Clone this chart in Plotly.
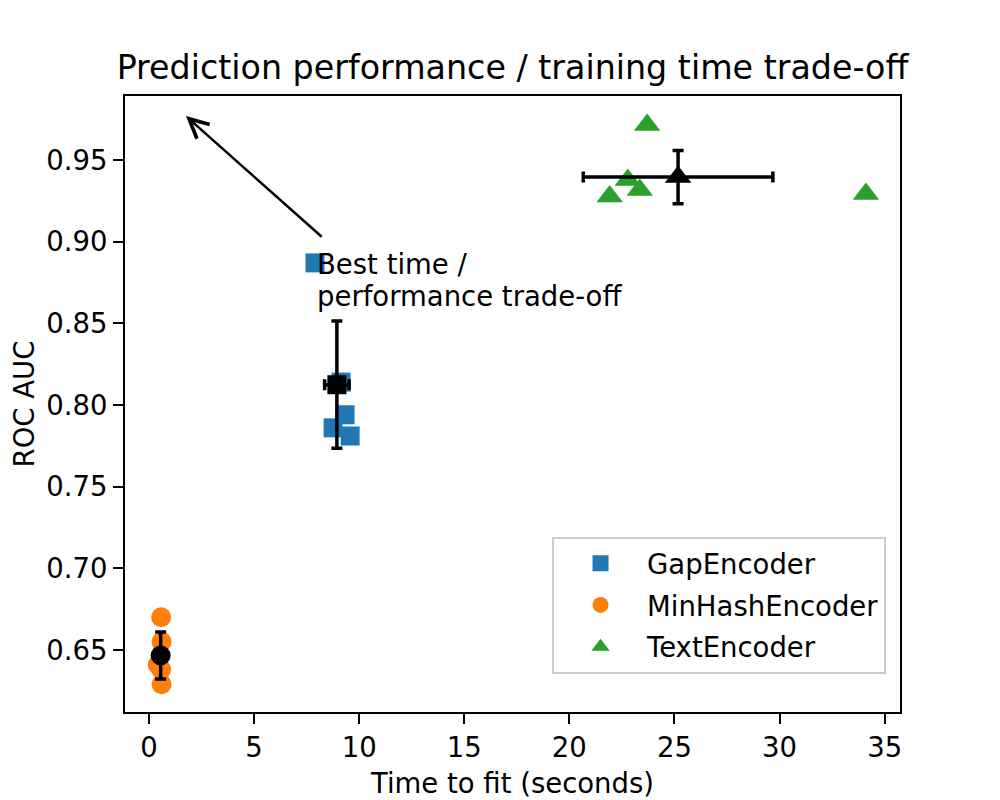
import numpy as np
import plotly.graph_objects as go

# ---- data ----
encoders = ["GapEncoder", "MinHashEncoder", "TextEncoder"]
colors = ["#1f77b4", "#ff7f0e", "#2ca02c"]
symbols = ["square", "circle", "triangle-up"]

gap_time = [7.90, 9.14, 9.33, 8.76, 9.57]
gap_auc = [0.887, 0.814, 0.794, 0.786, 0.781]

minhash_time = [0.58, 0.60, 0.42, 0.58, 0.60]
minhash_auc = [0.670, 0.655, 0.641, 0.638, 0.629]

text_time = [23.70, 22.78, 23.35, 21.92, 34.11]
text_auc = [0.9714, 0.9378, 0.9317, 0.9276, 0.9292]

x_ticks = [0, 5, 10, 15, 20, 25, 30, 35]
y_ticks = [0.65, 0.70, 0.75, 0.80, 0.85, 0.90, 0.95]

times = [gap_time, minhash_time, text_time]
aucs = [gap_auc, minhash_auc, text_auc]

FONT = "DejaVu Sans"
FS = 27.5

fig = go.Figure()

marker_sizes = {"square": 19, "circle": 20, "triangle-up": 23}

for name, col, sym, t, a in zip(encoders, colors, symbols, times, aucs):
    fig.add_trace(go.Scatter(
        x=t, y=a, mode="markers", name=name, legendgroup=name,
        marker=dict(color=col, symbol=sym, size=marker_sizes[sym], line=dict(width=0)),
    ))

for name, sym, t, a in zip(encoders, symbols, times, aucs):
    tm, am = np.mean(t), np.mean(a)
    ts, as_ = np.std(t), np.std(a)
    fig.add_trace(go.Scatter(
        x=[tm], y=[am], mode="markers", showlegend=False, legendgroup=name,
        marker=dict(color="black", symbol=sym, size=marker_sizes[sym], line=dict(width=0)),
        error_x=dict(type="data", array=[ts], color="black", thickness=3.5, width=5.5),
        error_y=dict(type="data", array=[as_], color="black", thickness=3.5, width=5.5),
    ))

# arrow
fig.add_annotation(
    x=1.76, y=0.9769, ax=8.29, ay=0.9022, xref="x", yref="y", axref="x", ayref="y",
    text="", showarrow=True, arrowhead=5, arrowsize=1.5, arrowwidth=2.5,
    arrowcolor="black", standoff=0, startstandoff=0,
)
fig.add_annotation(
    x=7.9, y=0.8975, xref="x", yref="y", text="Best time /", showarrow=False,
    xanchor="left", yanchor="top", align="left",
    font=dict(family=FONT, size=FS, color="black"),
)
fig.add_annotation(
    x=7.9, y=0.8780, xref="x", yref="y", text="performance trade-off", showarrow=False,
    xanchor="left", yanchor="top", align="left",
    font=dict(family=FONT, size=FS, color="black"),
)

axis_common = dict(
    showline=True, linecolor="black", linewidth=2, mirror=True,
    ticks="outside", ticklen=10, tickwidth=2, tickcolor="black",
    showgrid=False, zeroline=False, automargin=False,
    tickfont=dict(family=FONT, size=FS, color="black"),
)

fig.update_layout(
    width=1000, height=800,
    margin=dict(l=117, r=108, t=88, b=96),
    paper_bgcolor="white", plot_bgcolor="white",
    font=dict(family=FONT, size=FS, color="black"),
    title=dict(
        text="Prediction performance / training time trade-off",
        x=0.5, xref="paper", xanchor="center",
        y=1, yref="paper", yanchor="bottom", pad=dict(b=17),
        font=dict(family=FONT, size=33.3, color="black"),
    ),
    xaxis=dict(axis_common, range=[-1.14, 35.73], tickvals=x_ticks,
               ticktext=[str(v) for v in x_ticks],
               title=dict(text="Time to fit (seconds)", standoff=12,
                          font=dict(family=FONT, size=FS, color="black"))),
    yaxis=dict(axis_common, range=[0.612, 0.9892], tickvals=y_ticks,
               ticktext=[f"{v:.2f}" for v in y_ticks],
               title=dict(text="ROC AUC", standoff=21,
                          font=dict(family=FONT, size=FS, color="black"))),
    legend=dict(
        x=0.982, y=0.062, xanchor="right", yanchor="bottom",
        bgcolor="rgba(255,255,255,0.8)", bordercolor="#cccccc", borderwidth=2,
        font=dict(family=FONT, size=FS, color="black"),
        tracegroupgap=3, itemwidth=83,
    ),
)

fig.write_html("out.html")
